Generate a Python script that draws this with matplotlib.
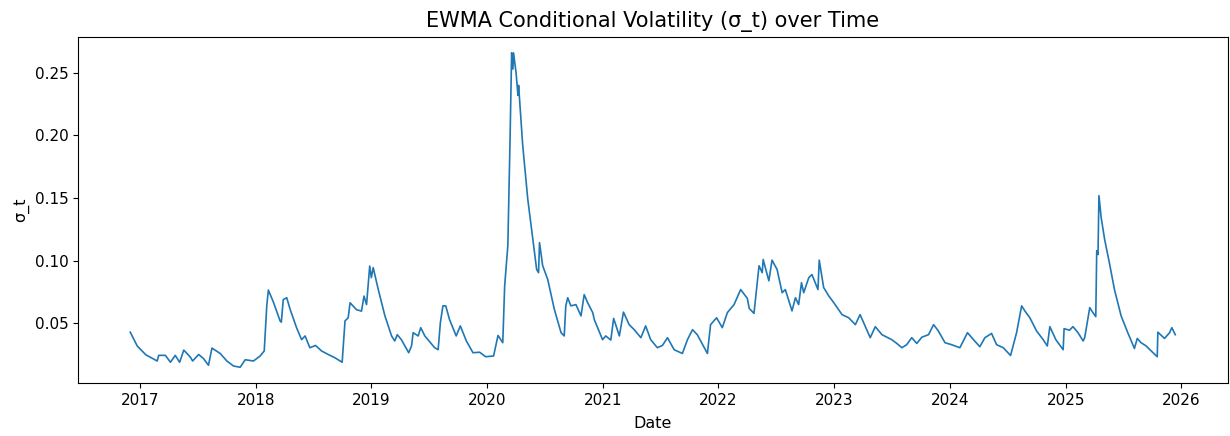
import pandas as pd
import matplotlib
matplotlib.use("Agg")
import matplotlib.pyplot as plt

# values
dates = [
    "2016-12-01", "2016-12-23", "2017-01-19", "2017-02-24", "2017-03-01", "2017-03-22",
    "2017-04-07", "2017-04-22", "2017-05-06", "2017-05-19", "2017-06-09", "2017-06-16",
    "2017-07-05", "2017-07-20", "2017-08-05", "2017-08-16", "2017-09-11", "2017-10-02",
    "2017-10-23", "2017-11-13", "2017-11-29", "2017-12-25", "2018-01-15", "2018-01-28",
    "2018-02-05", "2018-02-10", "2018-02-26", "2018-03-19", "2018-03-23", "2018-03-29",
    "2018-04-09", "2018-04-20", "2018-05-10", "2018-05-26", "2018-06-06", "2018-06-21",
    "2018-07-09", "2018-07-28", "2018-08-18", "2018-09-08", "2018-10-01", "2018-10-10",
    "2018-10-20", "2018-10-26", "2018-11-15", "2018-12-01", "2018-12-09", "2018-12-17",
    "2018-12-27", "2019-01-01", "2019-01-07", "2019-01-23", "2019-02-13", "2019-03-06",
    "2019-03-16", "2019-03-24", "2019-04-06", "2019-04-29", "2019-05-08", "2019-05-13",
    "2019-05-29", "2019-06-06", "2019-06-19", "2019-07-20", "2019-07-31", "2019-08-07",
    "2019-08-15", "2019-08-24", "2019-09-05", "2019-09-26", "2019-10-09", "2019-10-28",
    "2019-11-18", "2019-12-09", "2019-12-28", "2020-01-22", "2020-02-05", "2020-02-20",
    "2020-02-26", "2020-03-07", "2020-03-14", "2020-03-19", "2020-03-23", "2020-03-25",
    "2020-04-02", "2020-04-08", "2020-04-10", "2020-04-23", "2020-05-09", "2020-05-25",
    "2020-06-06", "2020-06-12", "2020-06-15", "2020-06-25", "2020-07-11", "2020-08-01",
    "2020-08-22", "2020-09-01", "2020-09-06", "2020-09-12", "2020-09-22", "2020-10-08",
    "2020-10-24", "2020-11-03", "2020-11-14", "2020-11-30", "2020-12-05", "2020-12-31",
    "2021-01-10", "2021-01-26", "2021-02-04", "2021-02-22", "2021-03-07", "2021-03-25",
    "2021-04-10", "2021-05-01", "2021-05-16", "2021-06-01", "2021-06-22", "2021-07-08",
    "2021-07-24", "2021-08-14", "2021-09-09", "2021-09-25", "2021-10-11", "2021-10-26",
    "2021-11-27", "2021-12-07", "2021-12-26", "2022-01-13", "2022-01-29", "2022-02-19",
    "2022-03-12", "2022-04-02", "2022-04-08", "2022-04-23", "2022-05-09", "2022-05-19",
    "2022-05-22", "2022-06-09", "2022-06-19", "2022-07-05", "2022-07-21", "2022-07-31",
    "2022-08-21", "2022-09-01", "2022-09-11", "2022-09-20", "2022-09-27", "2022-10-13",
    "2022-10-23", "2022-11-11", "2022-11-15", "2022-11-29", "2022-12-15", "2022-12-31",
    "2023-01-26", "2023-02-16", "2023-03-09", "2023-03-24", "2023-04-25", "2023-05-11",
    "2023-06-01", "2023-07-02", "2023-07-18", "2023-08-03", "2023-08-18", "2023-09-03",
    "2023-09-19", "2023-10-05", "2023-10-26", "2023-11-11", "2023-11-26", "2023-12-17",
    "2024-01-07", "2024-02-02", "2024-02-26", "2024-03-16", "2024-04-05", "2024-04-21",
    "2024-05-12", "2024-05-28", "2024-06-18", "2024-07-11", "2024-07-30", "2024-08-15",
    "2024-08-25", "2024-09-10", "2024-10-01", "2024-10-22", "2024-11-04", "2024-11-12",
    "2024-12-01", "2024-12-24", "2024-12-27", "2025-01-13", "2025-01-24", "2025-02-09",
    "2025-02-25", "2025-03-02", "2025-03-18", "2025-03-28", "2025-04-06", "2025-04-09",
    "2025-04-13", "2025-04-16", "2025-04-23", "2025-05-04", "2025-05-20", "2025-06-04",
    "2025-06-25", "2025-07-16", "2025-08-06", "2025-08-15", "2025-08-27", "2025-09-12",
    "2025-09-28", "2025-10-17", "2025-10-19", "2025-11-09", "2025-11-25", "2025-12-02",
    "2025-12-13",
]
sigma = [
    0.043, 0.032, 0.025, 0.020, 0.0245, 0.0245,
    0.019, 0.0245, 0.019, 0.0287, 0.023, 0.020,
    0.0252, 0.022, 0.0166, 0.0303, 0.026, 0.020,
    0.016, 0.015, 0.021, 0.020, 0.024, 0.028,
    0.064, 0.0766, 0.067, 0.052, 0.051, 0.069,
    0.0705, 0.061, 0.0466, 0.037, 0.040, 0.0306,
    0.0324, 0.028, 0.0252, 0.0226, 0.019, 0.052,
    0.0545, 0.0665, 0.061, 0.0598, 0.0718, 0.065,
    0.0958, 0.0865, 0.0945, 0.077, 0.056, 0.040,
    0.036, 0.041, 0.037, 0.0266, 0.032, 0.0426,
    0.040, 0.0466, 0.040, 0.0306, 0.029, 0.0505,
    0.064, 0.064, 0.053, 0.040, 0.048, 0.036,
    0.0266, 0.027, 0.0234, 0.024, 0.0404, 0.0346,
    0.080, 0.112, 0.197, 0.266, 0.253, 0.266,
    0.250, 0.232, 0.240, 0.192, 0.149, 0.117,
    0.093, 0.0905, 0.1145, 0.096, 0.085, 0.061,
    0.0426, 0.040, 0.064, 0.0705, 0.064, 0.065,
    0.056, 0.073, 0.0665, 0.0586, 0.053, 0.037,
    0.040, 0.0367, 0.054, 0.040, 0.059, 0.049,
    0.045, 0.0386, 0.048, 0.037, 0.0306, 0.0324,
    0.0386, 0.029, 0.026, 0.037, 0.045, 0.041,
    0.026, 0.049, 0.0545, 0.0466, 0.0586, 0.065,
    0.077, 0.070, 0.062, 0.058, 0.096, 0.0905,
    0.101, 0.084, 0.1005, 0.093, 0.0745, 0.077,
    0.060, 0.0705, 0.065, 0.0825, 0.0745, 0.0865,
    0.089, 0.077, 0.1005, 0.0786, 0.072, 0.0665,
    0.057, 0.0545, 0.049, 0.057, 0.0386, 0.0474,
    0.041, 0.037, 0.034, 0.0306, 0.033, 0.0386,
    0.034, 0.039, 0.041, 0.049, 0.044, 0.0346,
    0.033, 0.0306, 0.0426, 0.037, 0.0314, 0.0386,
    0.042, 0.033, 0.0306, 0.0244, 0.0426, 0.064,
    0.060, 0.0545, 0.044, 0.037, 0.032, 0.0474,
    0.037, 0.029, 0.0458, 0.0446, 0.0474, 0.0426,
    0.036, 0.0386, 0.0626, 0.0586, 0.0554, 0.108,
    0.105, 0.152, 0.1345, 0.117, 0.097, 0.077,
    0.056, 0.0426, 0.030, 0.038, 0.0346, 0.032,
    0.028, 0.0234, 0.043, 0.038, 0.0426, 0.0466,
    0.041,
]

df = pd.DataFrame({"date": pd.to_datetime(dates), "sigma": sigma})

plt.rcParams["font.size"] = 11
fig = plt.figure(figsize=(12.3, 4.36), dpi=100)
ax = fig.add_axes([0.0634, 0.1216, 0.9346, 0.7934])
ax.plot(df["date"], df["sigma"], color="#1f77b4", linewidth=1.2)
ax.set_title("EWMA Conditional Volatility (σ_t) over Time", fontsize=15, pad=7)
ax.set_xlabel("Date", fontsize=11.5, labelpad=6)
ax.set_ylabel("σ_t", fontsize=11.5)

fig.savefig("out.png", dpi=100)
